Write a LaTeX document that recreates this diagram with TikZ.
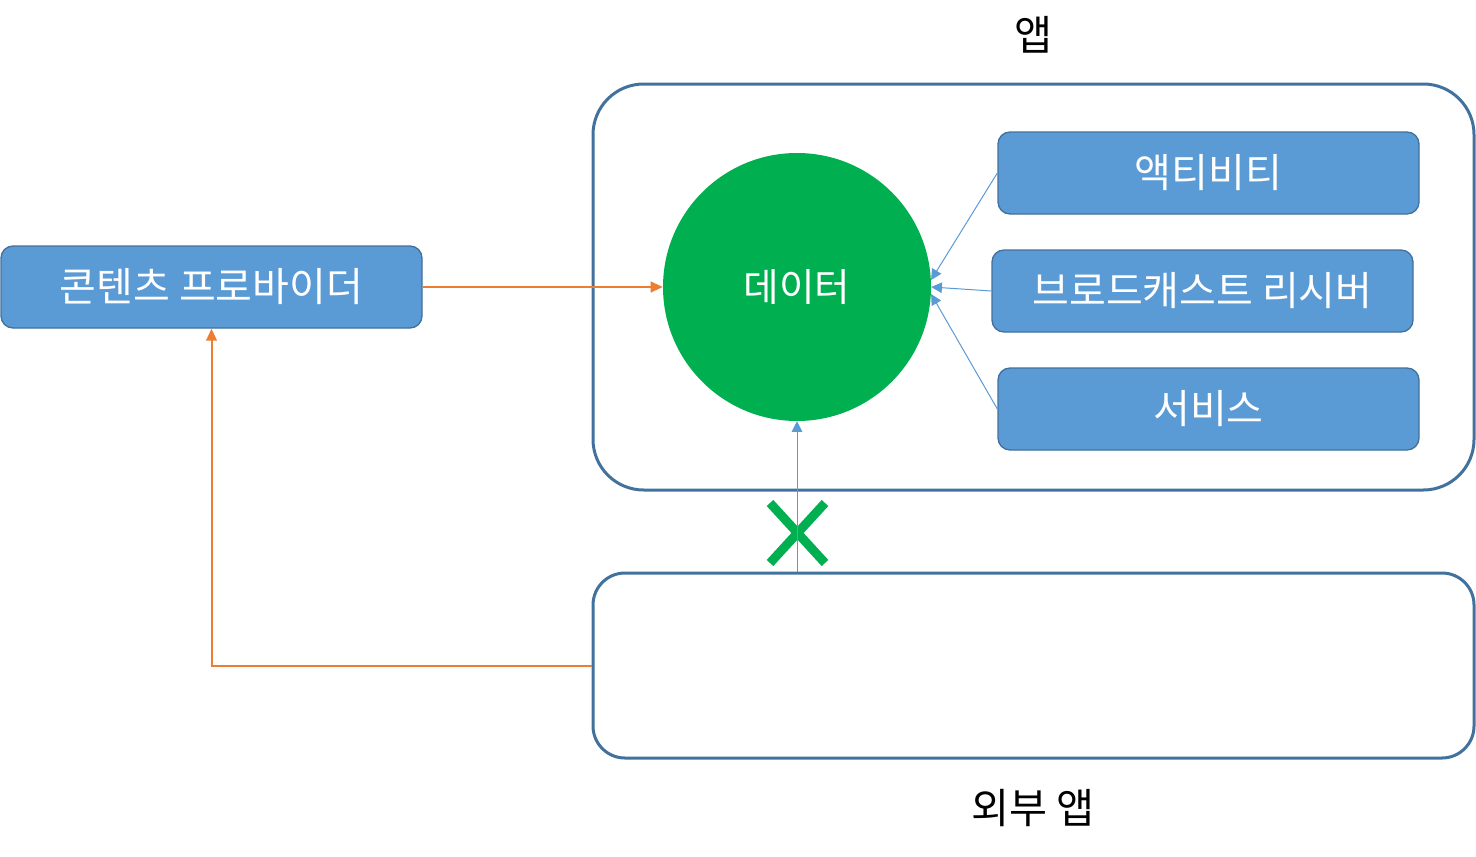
\documentclass[tikz,border=0pt]{standalone}
\usepackage{fontspec}
\setmainfont{Noto Sans CJK KR}
\usetikzlibrary{positioning}
\usetikzlibrary{arrows.meta}
\definecolor{boxblue}{HTML}{5B9BD5}
\definecolor{edgeblue}{HTML}{41719C}
\definecolor{datagreen}{HTML}{00B050}
\definecolor{linkorange}{HTML}{ED7D31}

\begin{document}
\begin{tikzpicture}[x=0.75pt,y=-0.75pt,
	part node/.style={rectangle,rounded corners=9pt,draw=edgeblue,line width=1pt,
		fill=boxblue,text=white,font=\fontsize{30}{34}\selectfont,
		minimum width=315.75pt,minimum height=61.5pt,inner sep=0pt},
	app frame/.style={rectangle,draw=edgeblue,line width=2.25pt,inner sep=0pt},
	blue link/.style={draw=boxblue,line width=0.75pt,-{Triangle[length=8pt,width=8pt]}},
	orange link/.style={draw=linkorange,line width=1.5pt,-{Triangle[length=9pt,width=8pt]}}]
	
	\useasboundingbox (0,0) rectangle (1476,856);
	
	% frames
	\node[app frame,rounded corners=38pt,minimum width=660.75pt,minimum height=304.5pt] (app) at (1033.5,287) {};
	\node[app frame,rounded corners=24pt,minimum width=660.75pt,minimum height=138.75pt] (outer) at (1033.5,665.5) {};
	\node[font=\fontsize{31}{35}\selectfont] (applabel) at (1033,35) {앱};
	\node[font=\fontsize{31}{35}\selectfont] (outerlabel) at (1033,808) {외부 앱};
	
	% nodes
	\node[circle,fill=datagreen,text=white,minimum size=201pt,inner sep=0pt,
		font=\fontsize{29}{33}\selectfont] (data) at (797,287) {데이터};
	\node[part node] (activity) at (1208.5,173) {액티비티};
	\node[part node] (receiver) at (1202.5,291) {브로드캐스트 리시버};
	\node[part node] (service) at (1208.5,409) {서비스};
	\node[part node] (provider) at (211.5,287) {콘텐츠 프로바이더};
	
	% blocked access
	\draw[datagreen,line width=6.75pt] (770,503) -- (825,563) (825,503) -- (770,563);
	
	% links
	\path
	(activity.west) edge [blue link] (data.3)
	(receiver.west) edge [blue link] (data.east)
	(service.west) edge [blue link] (data.-3)
	(data.south |- outer.north) edge [blue link] (data.south)
	(provider.east) edge [orange link] (data.west);
	\draw[orange link] (outer.west) -| (provider.south);
\end{tikzpicture}
\end{document}
